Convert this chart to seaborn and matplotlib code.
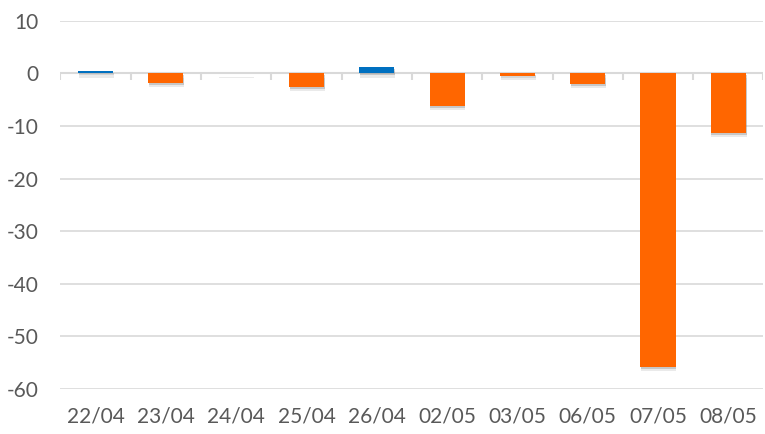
import matplotlib
matplotlib.use("Agg")
import matplotlib.pyplot as plt
import matplotlib.patheffects as pe
import seaborn as sns
import pandas as pd

# Data
dates = ["22/04", "23/04", "24/04", "25/04", "26/04", "02/05", "03/05", "06/05", "07/05", "08/05"]
values = [0.4, -1.8, 0.1, -2.6, 1.3, -6.2, -0.4, -2.0, -55.8, -11.3]

sns.set_theme(style="white")
plt.rcParams['font.family'] = ['Lato', 'DejaVu Sans']
plt.rcParams['axes.unicode_minus'] = False

df = pd.DataFrame({"date": dates, "value": values})
df["sign"] = ["pos" if v >= 0 else "neg" for v in values]

fig = plt.figure(figsize=(7.65, 4.34), dpi=100)
ax = fig.add_axes([0.079, 0.104, 0.919, 0.848])

sns.barplot(data=df, x="date", y="value", hue="sign",
            palette={"pos": "#0070C0", "neg": "#FF6600"}, saturation=1,
            dodge=False, width=0.5, legend=False, ax=ax, zorder=3, linewidth=0)

# soft drop shadow like the original (two layers to fake a blur)
for p in ax.patches:
    p.set_path_effects([pe.SimplePatchShadow(offset=(0.5, -3), shadow_rgbFace="#999999", alpha=0.2),
                        pe.SimplePatchShadow(offset=(0.5, -1.5), shadow_rgbFace="#777777", alpha=0.3),
                        pe.Normal()])

ax.set_ylim(-60, 10)
ax.set_xlim(-0.5, len(dates) - 0.5)
ax.set_yticks(range(-60, 11, 10))
ax.yaxis.grid(True, color="#D9D9D9", linewidth=1.2)
ax.set_axisbelow(True)
for s in ax.spines.values():
    s.set_visible(False)

# zero axis line with category boundary ticks
ax.axhline(0, color="#D9D9D9", linewidth=1.5, zorder=2)
ax.vlines([i - 0.5 for i in range(len(dates) + 1)], -1.2, 0, color="#D9D9D9", linewidth=1.5, zorder=2)

ax.set_xlabel("")
ax.set_ylabel("")
ax.tick_params(axis="both", length=0, labelsize=15, colors="#595959")
ax.tick_params(axis="x", pad=13)
ax.tick_params(axis="y", pad=16)

plt.savefig("out.png", dpi=100)
